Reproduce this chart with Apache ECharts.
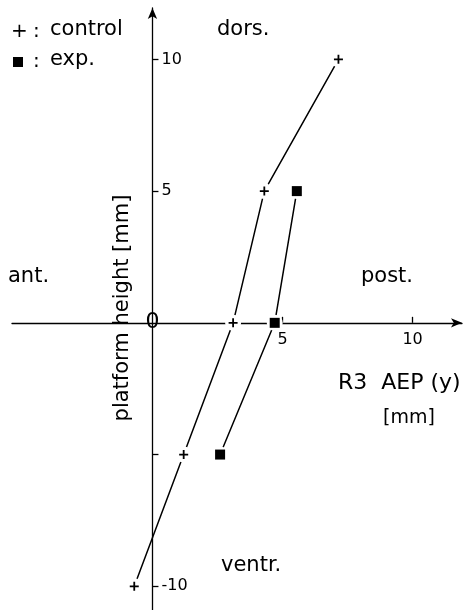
<!DOCTYPE html>
<html>
<head>
<meta charset="UTF-8">
<title>platform height vs R3 AEP</title>
<script src="https://cdn.jsdelivr.net/npm/echarts@6/dist/echarts.min.js"></script>
<style>
  html, body { margin: 0; padding: 0; background: #fff; }
  #main { width: 465px; height: 610px; }
</style>
</head>
<body>
<div id="main"></div>
<script>
// data (mm)
const controlX = [-0.7, 1.2, 3.1, 4.3, 7.15];
const controlY = [-10, -5, 0, 5, 10];
const expX = [2.6, 4.7, 5.55];
const expY = [-5, 0, 5];

const xTicks = [5, 10];
const yTicks = [10, 5, -5, -10];
const yLabels = [10, 5, -10];

const FONT = '"DejaVu Sans", "Liberation Sans", sans-serif';
const PLUS = 'path://M0,4H10V6H0ZM4,0H6V10H4Z';

const pairs = (xs, ys) => xs.map((x, i) => [x, ys[i]]);
const control = pairs(controlX, controlY);
const exp = pairs(expX, expY);

const chart = echarts.init(document.getElementById('main'));

const txt = (text, x, y, size, extra) => ({
  type: 'text', x: x, y: y, z: 100,
  rotation: (extra && extra.rotation) || 0,
  style: { text: text, font: size + 'px ' + FONT, fill: '#000',
           textAlign: (extra && extra.align) || 'left', textVerticalAlign: 'middle' }
});

const axisLine = { onZero: false, symbol: ['none', 'arrow'], symbolSize: [7, 11],
                   lineStyle: { color: '#000', width: 1.3 } };

chart.setOption({
  animation: false,
  grid: { left: 12, right: 3, top: 8, bottom: 0, outerBoundsMode: 'none' },
  xAxis: {
    type: 'value', min: -5.4, max: 11.9, position: 'bottom',
    splitLine: { show: false },
    axisLine: axisLine,
    axisTick: { inside: true, length: 6, customValues: xTicks,
                lineStyle: { color: '#000', width: 1.3 } },
    axisLabel: { customValues: xTicks, margin: 9, color: '#000',
                 fontSize: 16, fontFamily: FONT }
  },
  yAxis: {
    type: 'value', min: -10.9, max: 11.95, position: 'left',
    splitLine: { show: false },
    axisLine: axisLine,
    axisTick: { inside: true, length: 6, customValues: yTicks,
                lineStyle: { color: '#000', width: 1.3 } },
    axisLabel: { inside: true, customValues: yLabels, margin: 9, color: '#000',
                 fontSize: 16, fontFamily: FONT }
  },
  series: [
    { type: 'line', data: control, symbol: 'none', z: 2,
      lineStyle: { color: '#000', width: 1.5 } },
    { type: 'line', data: exp, symbol: 'none', z: 2,
      lineStyle: { color: '#000', width: 1.5 } },
    // white halo so lines and axis stop short of the markers
    { type: 'scatter', data: control.concat(exp), symbol: 'circle', symbolSize: 16, z: 3,
      itemStyle: { color: '#fff', opacity: 1 }, silent: true },
    { type: 'scatter', data: control, symbol: PLUS, symbolSize: 9, z: 4,
      itemStyle: { color: '#000', opacity: 1 } },
    { type: 'scatter', data: exp, symbol: 'rect', symbolSize: 10, z: 4,
      itemStyle: { color: '#000', opacity: 1 } }
  ]
});

// move the axes onto the zero lines (labels travel with them)
const origin = chart.convertToPixel({ gridIndex: 0 }, [0, 0]);
const corner = chart.convertToPixel({ gridIndex: 0 }, [-5.4, -10.9]);

chart.setOption({
  xAxis: { offset: -(corner[1] - origin[1]) },
  yAxis: { offset: -(origin[0] - corner[0]) },
  graphic: [
    txt('+', 11, 32, 20),
    txt(':', 33, 32, 20),
    txt('control', 50, 30, 21),
    { type: 'rect', z: 100, shape: { x: 13, y: 57, width: 10, height: 10 }, style: { fill: '#000' } },
    txt(':', 33, 62, 20),
    txt('exp.', 50, 60, 21),
    txt('dors.', 217, 30, 21),
    txt('ant.', 8, 277, 21),
    txt('post.', 361, 277, 21),
    txt('ventr.', 221, 566, 21),
    txt('R3  AEP (y)', 338, 383, 22),
    txt('[mm]', 409, 418, 19, { align: 'center' }),
    txt('0', origin[0], origin[1] - 1, 22, { align: 'center' }),
    txt('platform height [mm]', 123, 308, 21, { rotation: Math.PI / 2, align: 'center' })
  ]
});
</script>
</body>
</html>
